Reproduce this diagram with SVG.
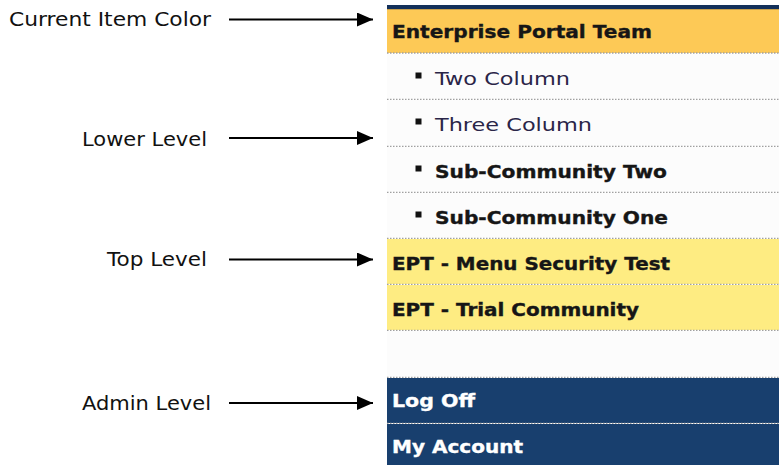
<svg xmlns="http://www.w3.org/2000/svg" width="779" height="465" viewBox="0 0 779 465">
<style>
.lbl{font-family:"DejaVu Sans","Verdana",sans-serif;font-size:20px;fill:#111;text-anchor:end}
.hd{font-family:"DejaVu Sans","Verdana",sans-serif;font-size:17px;font-weight:bold;fill:#161616;stroke:#161616;stroke-width:0.35}
.sub{font-family:"DejaVu Sans","Verdana",sans-serif;font-size:17.5px;fill:#2a2548}
.subb{font-family:"DejaVu Sans","Verdana",sans-serif;font-size:17px;font-weight:bold;fill:#161616;stroke:#161616;stroke-width:0.35}
.adm{font-family:"DejaVu Sans","Verdana",sans-serif;font-size:17px;font-weight:bold;fill:#ffffff;stroke:#ffffff;stroke-width:0.35}
.dot{stroke:#a0a0a0;stroke-width:1.5;stroke-dasharray:1.5 1.5;fill:none}
.bul{fill:#111}
.arr{stroke:#000;stroke-width:2;fill:none;marker-end:url(#ah)}
</style>
<defs>
<marker id="ah" markerUnits="userSpaceOnUse" markerWidth="16" markerHeight="14" refX="16" refY="7" orient="auto">
<path d="M0,0 L16,7 L0,14 Z" fill="#000"/>
</marker>
</defs>
<rect width="779" height="465" fill="#ffffff"/>
<g id="menu-panel">
<rect x="387" y="5" width="392" height="4" fill="#13305a"/>
<rect x="387" y="9" width="392" height="1" fill="#c9a04a"/>
</g>
<g id="current-item">
<rect x="387" y="10" width="392" height="43" fill="#fdc956"/>
<text class="hd" x="392" y="38" textLength="260" lengthAdjust="spacingAndGlyphs">Enterprise Portal Team</text>
<line class="dot" x1="387" y1="53" x2="779" y2="53"/>
</g>
<g id="two-column">
<rect x="387" y="54" width="392" height="45" fill="#fcfcfc"/>
<rect class="bul" x="415.5" y="72.5" width="6" height="6"/>
<text class="sub" x="435" y="85" textLength="135" lengthAdjust="spacingAndGlyphs">Two Column</text>
<line class="dot" x1="387" y1="99.5" x2="779" y2="99.5"/>
</g>
<g id="three-column">
<rect x="387" y="100" width="392" height="46" fill="#fcfcfc"/>
<rect class="bul" x="415.5" y="118.5" width="6" height="6"/>
<text class="sub" x="435" y="131" textLength="157" lengthAdjust="spacingAndGlyphs">Three Column</text>
<line class="dot" x1="387" y1="146.5" x2="779" y2="146.5"/>
</g>
<g id="sub-community-two">
<rect x="387" y="147" width="392" height="45" fill="#fcfcfc"/>
<rect class="bul" x="415.5" y="165.5" width="6" height="6"/>
<text class="subb" x="435" y="178" textLength="232" lengthAdjust="spacingAndGlyphs">Sub-Community Two</text>
<line class="dot" x1="387" y1="192.5" x2="779" y2="192.5"/>
</g>
<g id="sub-community-one">
<rect x="387" y="193" width="392" height="45" fill="#fcfcfc"/>
<rect class="bul" x="415.5" y="211.5" width="6" height="6"/>
<text class="subb" x="435" y="224" textLength="233" lengthAdjust="spacingAndGlyphs">Sub-Community One</text>
<line class="dot" x1="387" y1="238.5" x2="779" y2="238.5"/>
</g>
<g id="menu-security-test">
<rect x="387" y="239" width="392" height="45" fill="#feec82"/>
<text class="hd" x="392" y="270" textLength="278" lengthAdjust="spacingAndGlyphs">EPT - Menu Security Test</text>
<line class="dot" x1="387" y1="284.5" x2="779" y2="284.5"/>
</g>
<g id="trial-community">
<rect x="387" y="285" width="392" height="45" fill="#feec82"/>
<text class="hd" x="392" y="316" textLength="247" lengthAdjust="spacingAndGlyphs">EPT - Trial Community</text>
<line class="dot" x1="387" y1="330.5" x2="779" y2="330.5"/>
</g>
<g id="blank-row">
<rect x="387" y="331" width="392" height="46" fill="#fcfcfc"/>
<line class="dot" x1="387" y1="377.5" x2="779" y2="377.5"/>
</g>
<g id="log-off">
<rect x="387" y="378" width="392" height="45" fill="#183f6e"/>
<text class="adm" x="392" y="407" textLength="83" lengthAdjust="spacingAndGlyphs">Log Off</text>
<line class="dot" x1="387" y1="423.5" x2="779" y2="423.5"/>
</g>
<g id="my-account">
<rect x="387" y="424" width="392" height="41" fill="#183f6e"/>
<text class="adm" x="392" y="453" textLength="131" lengthAdjust="spacingAndGlyphs">My Account</text>
</g>
<g id="label-current">
<text class="lbl" x="211" y="26" textLength="202" lengthAdjust="spacingAndGlyphs">Current Item Color</text>
</g>
<g id="label-lower">
<text class="lbl" x="207" y="146" textLength="125" lengthAdjust="spacingAndGlyphs">Lower Level</text>
</g>
<g id="label-top">
<text class="lbl" x="207" y="266" textLength="100" lengthAdjust="spacingAndGlyphs">Top Level</text>
</g>
<g id="label-admin">
<text class="lbl" x="211" y="410" textLength="129" lengthAdjust="spacingAndGlyphs">Admin Level</text>
</g>
<g id="connectors">
<line class="arr" x1="229" y1="19.5" x2="373" y2="19.5"/>
<line class="arr" x1="229" y1="138" x2="373" y2="138"/>
<line class="arr" x1="229" y1="259.5" x2="373" y2="259.5"/>
<line class="arr" x1="229" y1="403" x2="373" y2="403"/>
</g>
</svg>
